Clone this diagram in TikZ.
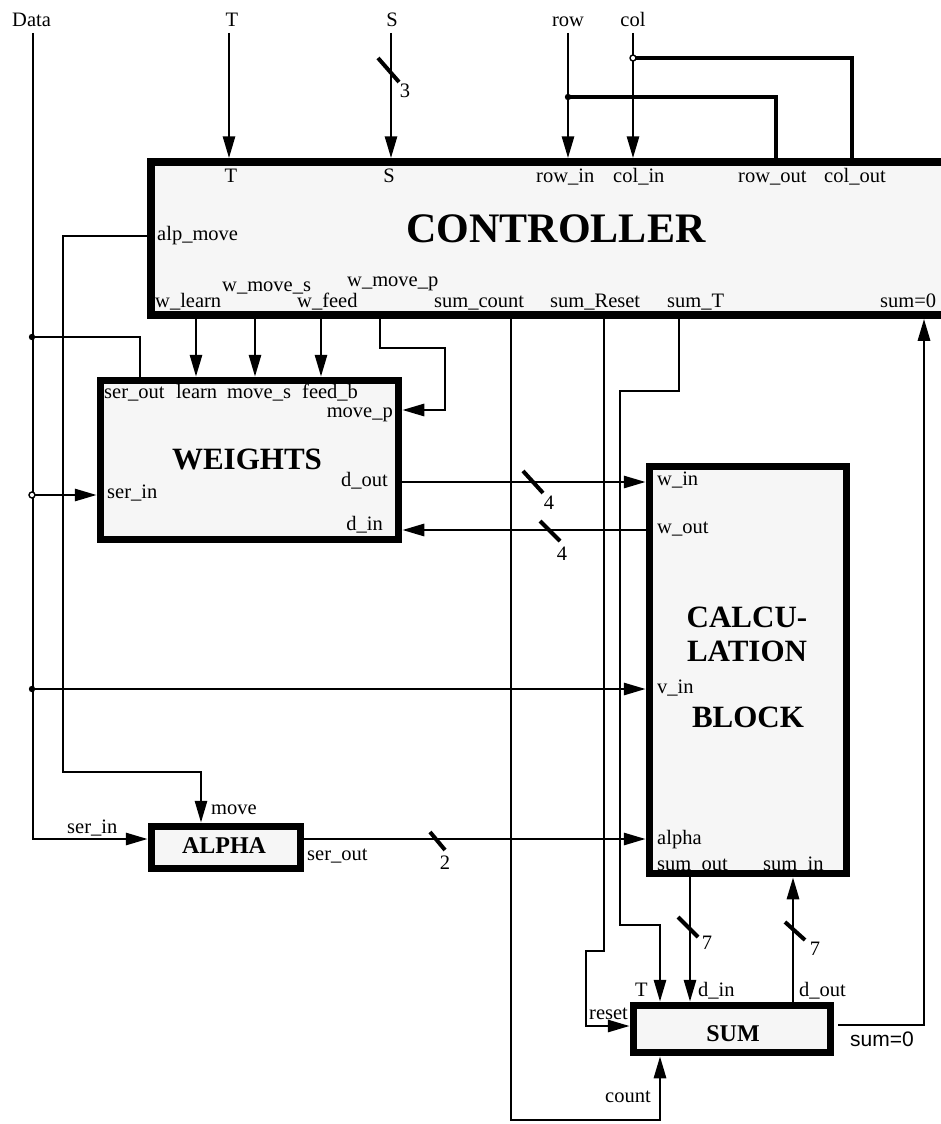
\documentclass[tikz,border=0pt]{standalone}
\usepackage{fontspec}
\setmainfont{Liberation Serif}
\newfontfamily\sansf{Liberation Sans}
\usetikzlibrary{arrows.meta}
\definecolor{boxgray}{RGB}{246,246,246}
\begin{document}
\begin{tikzpicture}[x=1pt,y=-1pt,
  conn/.style={line width=2.9pt},
  arr/.style={conn,-{Triangle[length=22pt,width=12pt]}},
  slash/.style={line width=4pt},
  box/.style={draw,line width=7.5pt,fill=boxgray,inner sep=0pt,outer sep=3.75pt},
  lbl/.style={font=\fontsize{20.5}{24}\selectfont,inner sep=0pt},
  slbl/.style={font=\sansf\fontsize{21}{24}\selectfont,inner sep=0pt},
  bigt/.style={font=\bfseries\fontsize{42}{46}\selectfont,inner sep=0pt},
  midt/.style={font=\bfseries\fontsize{31}{34}\selectfont,inner sep=0pt},
  smlt/.style={font=\bfseries\fontsize{24}{28}\selectfont,inner sep=0pt},
  dotf/.style={fill=black},
  doto/.style={draw=black,line width=1.4pt,fill=white}]
\useasboundingbox (0,0) rectangle (940,1124);

% ---------------- boxes ----------------
\node[box,minimum width=809pt,minimum height=153pt] (ctrl) at (555.5,238.5) {};
\node[box,minimum width=298pt,minimum height=159pt] (wts) at (249.5,460) {};
\node[box,minimum width=197pt,minimum height=407pt] (calc) at (748,670) {};
\node[box,minimum width=149pt,minimum height=42pt] (alpha) at (226,847.5) {};
\node[box,minimum width=197pt,minimum height=47pt] (sum) at (732,1029) {};

% ---------------- titles ----------------
\node[bigt,anchor=base] (tctrl) at (556,242) {CONTROLLER};
\node[midt,anchor=base] (twts) at (247,469) {WEIGHTS};
\node[midt,anchor=base] (tc1) at (747,627) {CALCU-};
\node[midt,anchor=base] (tc2) at (747,661) {LATION};
\node[midt,anchor=base] (tc3) at (748,727) {BLOCK};
\node[smlt,anchor=base] (talpha) at (224,853) {ALPHA};
\node[smlt,anchor=base] (tsum) at (733,1041) {SUM};

% ---------------- top inputs ----------------
\node[lbl,anchor=base west] (lData) at (12,27) {Data};
\node[lbl,anchor=base] (lT) at (232,27) {T};
\node[lbl,anchor=base] (lS) at (392,27) {S};
\node[lbl,anchor=base] (lrow) at (568,27) {row};
\node[lbl,anchor=base] (lcol) at (633,27) {col};

\coordinate (Tsrc) at (229,33);
\coordinate (Ssrc) at (391,33);
\coordinate (rsrc) at (568,33);
\coordinate (csrc) at (633,33);
\draw[arr] (Tsrc) -- (Tsrc |- ctrl.north);
\draw[arr] (Ssrc) -- (Ssrc |- ctrl.north);
\draw[arr] (rsrc) -- (rsrc |- ctrl.north);
\draw[arr] (csrc) -- (csrc |- ctrl.north);
\draw[slash] (378,58) -- (399,82);
\node[lbl,anchor=base] (l3) at (405,97) {3};

\coordinate (rowj) at (568,97);
\coordinate (rowo) at (776,97);
\draw[conn,line width=3.2pt] (rowj) -- (rowo) -- (rowo |- ctrl.north);
\fill[dotf] (rowj) circle (3.2pt);
\coordinate (colj) at (633,58);
\coordinate (colo) at (852,58);
\draw[conn,line width=3.2pt] (colj) -- (colo) -- (colo |- ctrl.north);
\draw[doto] (colj) circle (3pt);

% ---------------- controller labels ----------------
\node[lbl,anchor=base] (pT) at (231,182) {T};
\node[lbl,anchor=base] (pS) at (389,182) {S};
\node[lbl,anchor=base west] (prowin) at (536,182) {row\_in};
\node[lbl,anchor=base west] (pcolin) at (613,182) {col\_in};
\node[lbl,anchor=base west] (prowout) at (738,182) {row\_out};
\node[lbl,anchor=base west] (pcolout) at (824,182) {col\_out};
\node[lbl,anchor=base west] (palp) at (157,240) {alp\_move};
\node[lbl,anchor=base west] (pwl) at (155,307) {w\_learn};
\node[lbl,anchor=base west] (pwms) at (222,291) {w\_move\_s};
\node[lbl,anchor=base west] (pwf) at (297,307) {w\_feed};
\node[lbl,anchor=base west] (pwmp) at (347,286) {w\_move\_p};
\node[lbl,anchor=base west] (psc) at (434,307) {sum\_count};
\node[lbl,anchor=base west] (psr) at (550,307) {sum\_Reset};
\node[lbl,anchor=base west] (pst) at (667,307) {sum\_T};
\node[lbl,anchor=base west] (psz) at (880,307) {sum=0};

% ---------------- weights labels ----------------
\node[lbl,anchor=base west] (wso) at (104,398) {ser\_out};
\node[lbl,anchor=base west] (wle) at (176,398) {learn};
\node[lbl,anchor=base west] (wms) at (227,398) {move\_s};
\node[lbl,anchor=base west] (wfb) at (302,398) {feed\_b};
\node[lbl,anchor=base east] (wmp) at (393,417) {move\_p};
\node[lbl,anchor=base east] (wdo) at (388,486) {d\_out};
\node[lbl,anchor=base west] (wsi) at (107,498) {ser\_in};
\node[lbl,anchor=base east] (wdi) at (383,530) {d\_in};

% ---------------- calc labels ----------------
\node[lbl,anchor=base west] (cwi) at (657,485) {w\_in};
\node[lbl,anchor=base west] (cwo) at (657,533) {w\_out};
\node[lbl,anchor=base west] (cvi) at (657,693) {v\_in};
\node[lbl,anchor=base west] (cal) at (657,844) {alpha};
\node[lbl,anchor=base west] (cso) at (657,870) {sum\_out};
\node[lbl,anchor=base west] (csi) at (763,870) {sum\_in};

% ---------------- alpha labels ----------------
\node[lbl,anchor=base west] (amv) at (211,814) {move};
\node[lbl,anchor=base west] (asi) at (67,833) {ser\_in};
\node[lbl,anchor=base west] (aso) at (307,860) {ser\_out};

% ---------------- sum labels ----------------
\node[lbl,anchor=base west] (sT) at (635,996) {T};
\node[lbl,anchor=base west] (sdi) at (698,996) {d\_in};
\node[lbl,anchor=base west] (sdo) at (799,996) {d\_out};
\node[lbl,anchor=base west] (srs) at (589,1019) {reset};
\node[lbl,anchor=base west] (scn) at (605,1102) {count};
\node[slbl,anchor=base west] (ssz) at (850,1046) {sum=0};

% ---------------- controller -> weights ----------------
\coordinate (xwl) at (196,330);
\coordinate (xwms) at (255,330);
\coordinate (xwf) at (321,330);
\draw[arr] (xwl |- ctrl.south) -- (xwl |- wts.north);
\draw[arr] (xwms |- ctrl.south) -- (xwms |- wts.north);
\draw[arr] (xwf |- ctrl.south) -- (xwf |- wts.north);
\coordinate (mp1) at (380,348);
\coordinate (mp2) at (445,348);
\coordinate (mp3) at (445,410);
\draw[arr] (mp1 |- ctrl.south) -- (mp1) -- (mp2) -- (mp3) -- (mp3 -| wts.east);

% ---------------- Data line and branches ----------------
\coordinate (dtop) at (33,33);
\coordinate (dbot) at (33,839);
\draw[arr] (dtop) -- (dbot) -- (dbot -| alpha.west);
\coordinate (so) at (140,337);
\coordinate (dj1) at (32,337);
\draw[conn] (so |- wts.north) -- (so) -- (dj1);
\fill[dotf] (dj1) circle (3.2pt);
\coordinate (dj2) at (32,495);
\draw[arr] (dj2) -- (dj2 -| wts.west);
\draw[doto] (dj2) circle (3pt);
\coordinate (dj3) at (32,689);
\draw[arr] (dj3) -- (dj3 -| calc.west);
\fill[dotf] (dj3) circle (3.2pt);

% ---------------- alp_move ----------------
\coordinate (am1) at (63,236);
\coordinate (am2) at (63,772);
\coordinate (am3) at (201,772);
\draw[arr] (am1 -| ctrl.west) -- (am1) -- (am2) -- (am3) -- (am3 |- alpha.north);

% ---------------- weights <-> calc ----------------
\coordinate (ydo) at (500,482);
\coordinate (ydi) at (500,530);
\draw[arr] (ydo -| wts.east) -- (ydo -| calc.west);
\draw[arr] (ydi -| calc.west) -- (ydi -| wts.east);
\draw[slash] (523,471) -- (543,493);
\node[lbl,anchor=base] (l4a) at (549,509) {4};
\draw[slash] (540,521) -- (560,541);
\node[lbl,anchor=base] (l4b) at (562,560) {4};

% ---------------- alpha -> calc ----------------
\coordinate (yal) at (500,839);
\draw[arr] (yal -| alpha.east) -- (yal -| calc.west);
\draw[slash] (430,832) -- (445,850);
\node[lbl,anchor=base] (l2) at (445,869) {2};

% ---------------- calc <-> sum ----------------
\coordinate (xso) at (690,950);
\coordinate (xsi) at (793,950);
\draw[arr] (xso |- calc.south) -- (xso |- sum.north);
\draw[arr] (xsi |- sum.north) -- (xsi |- calc.south);
\draw[slash] (678,917) -- (698,937);
\node[lbl,anchor=base] (l7a) at (707,949) {7};
\draw[slash] (785,922) -- (805,940);
\node[lbl,anchor=base] (l7b) at (815,955) {7};

% ---------------- controller -> sum ----------------
\coordinate (st1) at (679,391);
\coordinate (st2) at (620,391);
\coordinate (st3) at (620,925);
\coordinate (st4) at (660,925);
\draw[arr] (st1 |- ctrl.south) -- (st1) -- (st2) -- (st3) -- (st4) -- (st4 |- sum.north);
\coordinate (sr1) at (604,951);
\coordinate (sr2) at (586,951);
\coordinate (sr3) at (586,1026);
\draw[arr] (sr1 |- ctrl.south) -- (sr1) -- (sr2) -- (sr3) -- (sr3 -| sum.west);
\coordinate (sc1) at (511,1120);
\coordinate (sc2) at (660,1120);
\draw[arr] (sc1 |- ctrl.south) -- (sc1) -- (sc2) -- (sc2 |- sum.south);
\coordinate (sz1) at (838,1025);
\coordinate (sz2) at (924,1025);
\draw[arr] (sz1) -- (sz2) -- (sz2 |- ctrl.south);
\end{tikzpicture}
\end{document}
